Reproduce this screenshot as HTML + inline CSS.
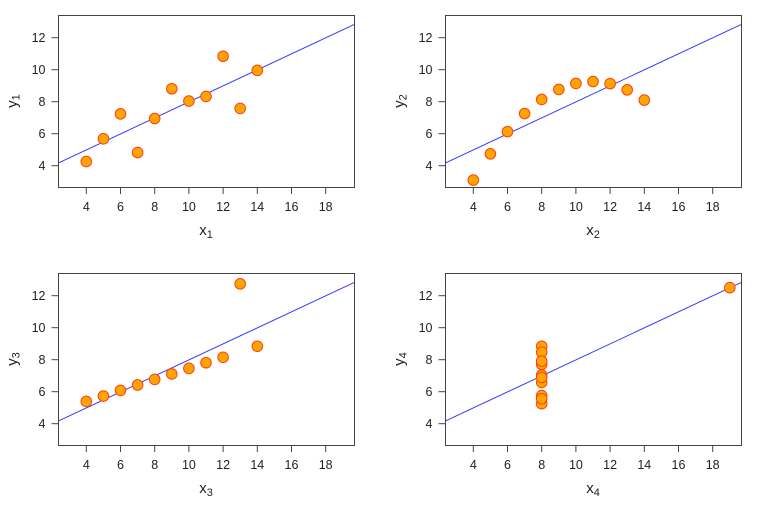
<!DOCTYPE html>
<html><head><meta charset="utf-8"><style>
html,body{margin:0;padding:0;background:#fff;}
svg{display:block;font-family:"Liberation Sans",Arial,sans-serif;}
</style></head><body>
<svg width="770" height="513" viewBox="0 0 770 513" xmlns="http://www.w3.org/2000/svg">
<defs>
<g id="frame">
  <rect x="58.5" y="15.5" width="296" height="172" fill="none" stroke="#444" stroke-width="1"/>
  <g stroke="#444" stroke-width="1">
    <line x1="86.3" y1="187.5" x2="86.3" y2="194"/>
    <line x1="120.5" y1="187.5" x2="120.5" y2="194"/>
    <line x1="154.7" y1="187.5" x2="154.7" y2="194"/>
    <line x1="188.9" y1="187.5" x2="188.9" y2="194"/>
    <line x1="223.1" y1="187.5" x2="223.1" y2="194"/>
    <line x1="257.3" y1="187.5" x2="257.3" y2="194"/>
    <line x1="291.5" y1="187.5" x2="291.5" y2="194"/>
    <line x1="325.7" y1="187.5" x2="325.7" y2="194"/>
    <line x1="51.5" y1="37.7" x2="58.5" y2="37.7"/>
    <line x1="51.5" y1="69.7" x2="58.5" y2="69.7"/>
    <line x1="51.5" y1="101.7" x2="58.5" y2="101.7"/>
    <line x1="51.5" y1="133.7" x2="58.5" y2="133.7"/>
    <line x1="51.5" y1="165.7" x2="58.5" y2="165.7"/>
  </g>
  <g fill="#222" font-size="12.5" text-anchor="middle">
    <text x="86.3" y="211">4</text>
    <text x="120.5" y="211">6</text>
    <text x="154.7" y="211">8</text>
    <text x="188.9" y="211">10</text>
    <text x="223.1" y="211">12</text>
    <text x="257.3" y="211">14</text>
    <text x="291.5" y="211">16</text>
    <text x="325.7" y="211">18</text>
  </g>
  <g fill="#222" font-size="12.5" text-anchor="end">
    <text x="45.5" y="42.2">12</text>
    <text x="45.5" y="74.2">10</text>
    <text x="45.5" y="106.2">8</text>
    <text x="45.5" y="138.2">6</text>
    <text x="45.5" y="170.2">4</text>
  </g>
</g>
</defs>

<!-- Panel 1 -->
<use href="#frame"/>
<text x="206" y="235" font-size="15" fill="#222" text-anchor="middle">x<tspan font-size="11" dy="3">1</tspan></text>
<text transform="translate(17,101) rotate(-90)" font-size="15" fill="#222" text-anchor="middle">y<tspan font-size="11" dy="2.5">1</tspan></text>
<line x1="58.8" y1="162.8" x2="354" y2="24.6" stroke="#3838ff" stroke-width="1"/>
<g fill="#ffa500" stroke="#ff4010" stroke-width="1">
<circle cx="188.9" cy="101.06" r="5.3"/>
<circle cx="154.7" cy="118.5" r="5.3"/>
<circle cx="240.2" cy="108.42" r="5.3"/>
<circle cx="171.8" cy="88.74" r="5.3"/>
<circle cx="206.0" cy="96.42" r="5.3"/>
<circle cx="257.3" cy="70.34" r="5.3"/>
<circle cx="120.5" cy="113.86" r="5.3"/>
<circle cx="86.3" cy="161.54" r="5.3"/>
<circle cx="223.1" cy="56.26" r="5.3"/>
<circle cx="137.6" cy="152.58" r="5.3"/>
<circle cx="103.4" cy="138.82" r="5.3"/>
</g>

<!-- Panel 2 -->
<use href="#frame" transform="translate(387,0)"/>
<text x="593" y="235" font-size="15" fill="#222" text-anchor="middle">x<tspan font-size="11" dy="3">2</tspan></text>
<text transform="translate(404,101) rotate(-90)" font-size="15" fill="#222" text-anchor="middle">y<tspan font-size="11" dy="2.5">2</tspan></text>
<line x1="445.8" y1="162.8" x2="741" y2="24.6" stroke="#3838ff" stroke-width="1"/>
<g fill="#ffa500" stroke="#ff4010" stroke-width="1" transform="translate(387,0)">
<circle cx="188.9" cy="83.46" r="5.3"/>
<circle cx="154.7" cy="99.46" r="5.3"/>
<circle cx="240.2" cy="89.86" r="5.3"/>
<circle cx="171.8" cy="89.38" r="5.3"/>
<circle cx="206.0" cy="81.54" r="5.3"/>
<circle cx="257.3" cy="100.1" r="5.3"/>
<circle cx="120.5" cy="131.62" r="5.3"/>
<circle cx="86.3" cy="180.1" r="5.3"/>
<circle cx="223.1" cy="83.62" r="5.3"/>
<circle cx="137.6" cy="113.54" r="5.3"/>
<circle cx="103.4" cy="153.86" r="5.3"/>
</g>

<!-- Panel 3 -->
<use href="#frame" transform="translate(0,258)"/>
<text x="206" y="493" font-size="15" fill="#222" text-anchor="middle">x<tspan font-size="11" dy="3">3</tspan></text>
<text transform="translate(17,359) rotate(-90)" font-size="15" fill="#222" text-anchor="middle">y<tspan font-size="11" dy="2.5">3</tspan></text>
<line x1="58.8" y1="420.8" x2="354" y2="282.6" stroke="#3838ff" stroke-width="1"/>
<g fill="#ffa500" stroke="#ff4010" stroke-width="1" transform="translate(0,258)">
<circle cx="188.9" cy="110.34" r="5.3"/>
<circle cx="154.7" cy="121.38" r="5.3"/>
<circle cx="240.2" cy="25.86" r="5.3"/>
<circle cx="171.8" cy="115.94" r="5.3"/>
<circle cx="206.0" cy="104.74" r="5.3"/>
<circle cx="257.3" cy="88.26" r="5.3"/>
<circle cx="120.5" cy="132.42" r="5.3"/>
<circle cx="86.3" cy="143.46" r="5.3"/>
<circle cx="223.1" cy="99.3" r="5.3"/>
<circle cx="137.6" cy="126.98" r="5.3"/>
<circle cx="103.4" cy="138.02" r="5.3"/>
</g>

<!-- Panel 4 -->
<use href="#frame" transform="translate(387,258)"/>
<text x="593" y="493" font-size="15" fill="#222" text-anchor="middle">x<tspan font-size="11" dy="3">4</tspan></text>
<text transform="translate(404,359) rotate(-90)" font-size="15" fill="#222" text-anchor="middle">y<tspan font-size="11" dy="2.5">4</tspan></text>
<line x1="445.8" y1="420.8" x2="741" y2="282.6" stroke="#3838ff" stroke-width="1"/>
<g fill="#ffa500" stroke="#ff4010" stroke-width="1" transform="translate(387,258)">
<circle cx="154.7" cy="124.42" r="5.3"/>
<circle cx="154.7" cy="137.54" r="5.3"/>
<circle cx="154.7" cy="106.34" r="5.3"/>
<circle cx="154.7" cy="88.26" r="5.3"/>
<circle cx="154.7" cy="94.18" r="5.3"/>
<circle cx="154.7" cy="117.06" r="5.3"/>
<circle cx="154.7" cy="145.7" r="5.3"/>
<circle cx="342.8" cy="29.7" r="5.3"/>
<circle cx="154.7" cy="140.74" r="5.3"/>
<circle cx="154.7" cy="103.14" r="5.3"/>
<circle cx="154.7" cy="119.46" r="5.3"/>
</g>
</svg>
</body></html>
